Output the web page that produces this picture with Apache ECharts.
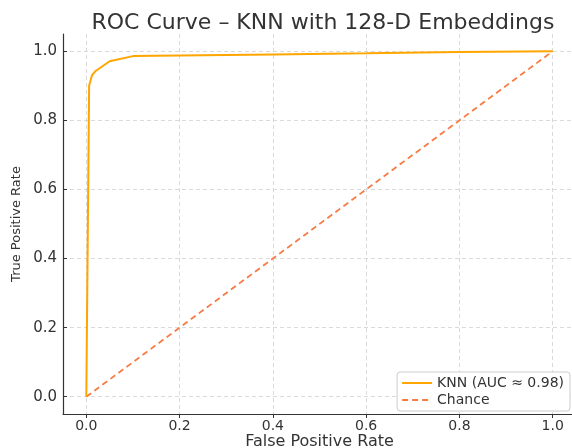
<!DOCTYPE html>
<html><head><meta charset="utf-8">
<script src="https://cdn.jsdelivr.net/npm/echarts@6/dist/echarts.min.js"></script>
<style>html,body{margin:0;padding:0;background:#fff}#c{width:572px;height:448px}</style>
</head><body><div id="c"></div>
<script>
const knnFpr = [0, 0.003, 0.006, 0.012, 0.02, 0.05, 0.1, 0.2, 0.4, 0.6, 0.8, 1.0];
const knnTpr = [0, 0.45, 0.90, 0.93, 0.943, 0.971, 0.986, 0.988, 0.991, 0.994, 0.998, 1.0];
const chanceX = [0, 1];
const chanceY = [0, 1];
const tickValues = [0, 0.2, 0.4, 0.6, 0.8, 1.0];
const titleText = 'ROC Curve – KNN with 128-D Embeddings';
const knnName = 'KNN (AUC ≈ 0.98)';
const chanceName = 'Chance';

const font = 'DejaVu Sans';
const chart = echarts.init(document.getElementById('c'), null, {renderer: 'canvas'});
const axisBase = {
  type: 'value', min: -0.05, max: 1.05,
  axisLine: {show: true, onZero: false, lineStyle: {color: '#333', width: 1.2}},
  splitLine: {show: true, lineStyle: {color: '#d0d0d0', type: [4, 3], width: 0.8}},
  nameLocation: 'middle', nameMoveOverlap: false
};
chart.setOption({
  animation: false,
  backgroundColor: '#fff',
  title: {text: titleText, left: 318, textAlign: 'center', top: 7,
    textStyle: {fontFamily: font, fontWeight: 'normal', fontSize: 22, color: '#333'}},
  grid: {left: 63, top: 34, width: 513, height: 380, containLabel: false, outerBoundsMode: 'none'},
  xAxis: Object.assign({}, axisBase, {
    name: 'False Positive Rate', nameGap: 20,
    nameTextStyle: {color: '#333', fontFamily: font, fontSize: 16, verticalAlign: 'top'},
    axisTick: {show: true, customValues: tickValues, length: 4, inside: false, lineStyle: {color: '#333'}},
    axisLabel: {customValues: tickValues, color: '#333', fontFamily: font, fontSize: 14, margin: 5,
      formatter: v => v.toFixed(1)}
  }),
  yAxis: Object.assign({}, axisBase, {
    name: 'True Positive Rate', nameGap: 40,
    nameTextStyle: {color: '#333', fontFamily: font, fontSize: 13},
    axisTick: {show: true, customValues: tickValues, length: 4, inside: true, lineStyle: {color: '#333'}},
    axisLabel: {customValues: tickValues, color: '#333', fontFamily: font, fontSize: 15, margin: 6,
      formatter: v => v.toFixed(1)}
  }),
  legend: {
    orient: 'vertical', right: 2, bottom: 37, itemWidth: 30, itemHeight: 12, itemGap: 3,
    itemStyle: {opacity: 0},
    backgroundColor: '#fff', borderColor: '#ccc', borderWidth: 1, borderRadius: 3,
    padding: [4, 6, 4, 4],
    textStyle: {fontFamily: font, fontSize: 14, color: '#333'},
    data: [knnName, chanceName]
  },
  series: [
    {name: knnName, type: 'line', showSymbol: false, symbol: 'none',
     data: knnFpr.map((x, i) => [x, knnTpr[i]]),
     lineStyle: {color: '#FFA500', width: 2}, itemStyle: {color: '#FFA500'}, z: 3},
    {name: chanceName, type: 'line', showSymbol: false, symbol: 'none',
     data: chanceX.map((x, i) => [x, chanceY[i]]),
     lineStyle: {color: '#F77B45', width: 1.8, type: [6, 4]}, itemStyle: {color: '#F77B45'}, z: 2}
  ]
});
</script></body></html>
